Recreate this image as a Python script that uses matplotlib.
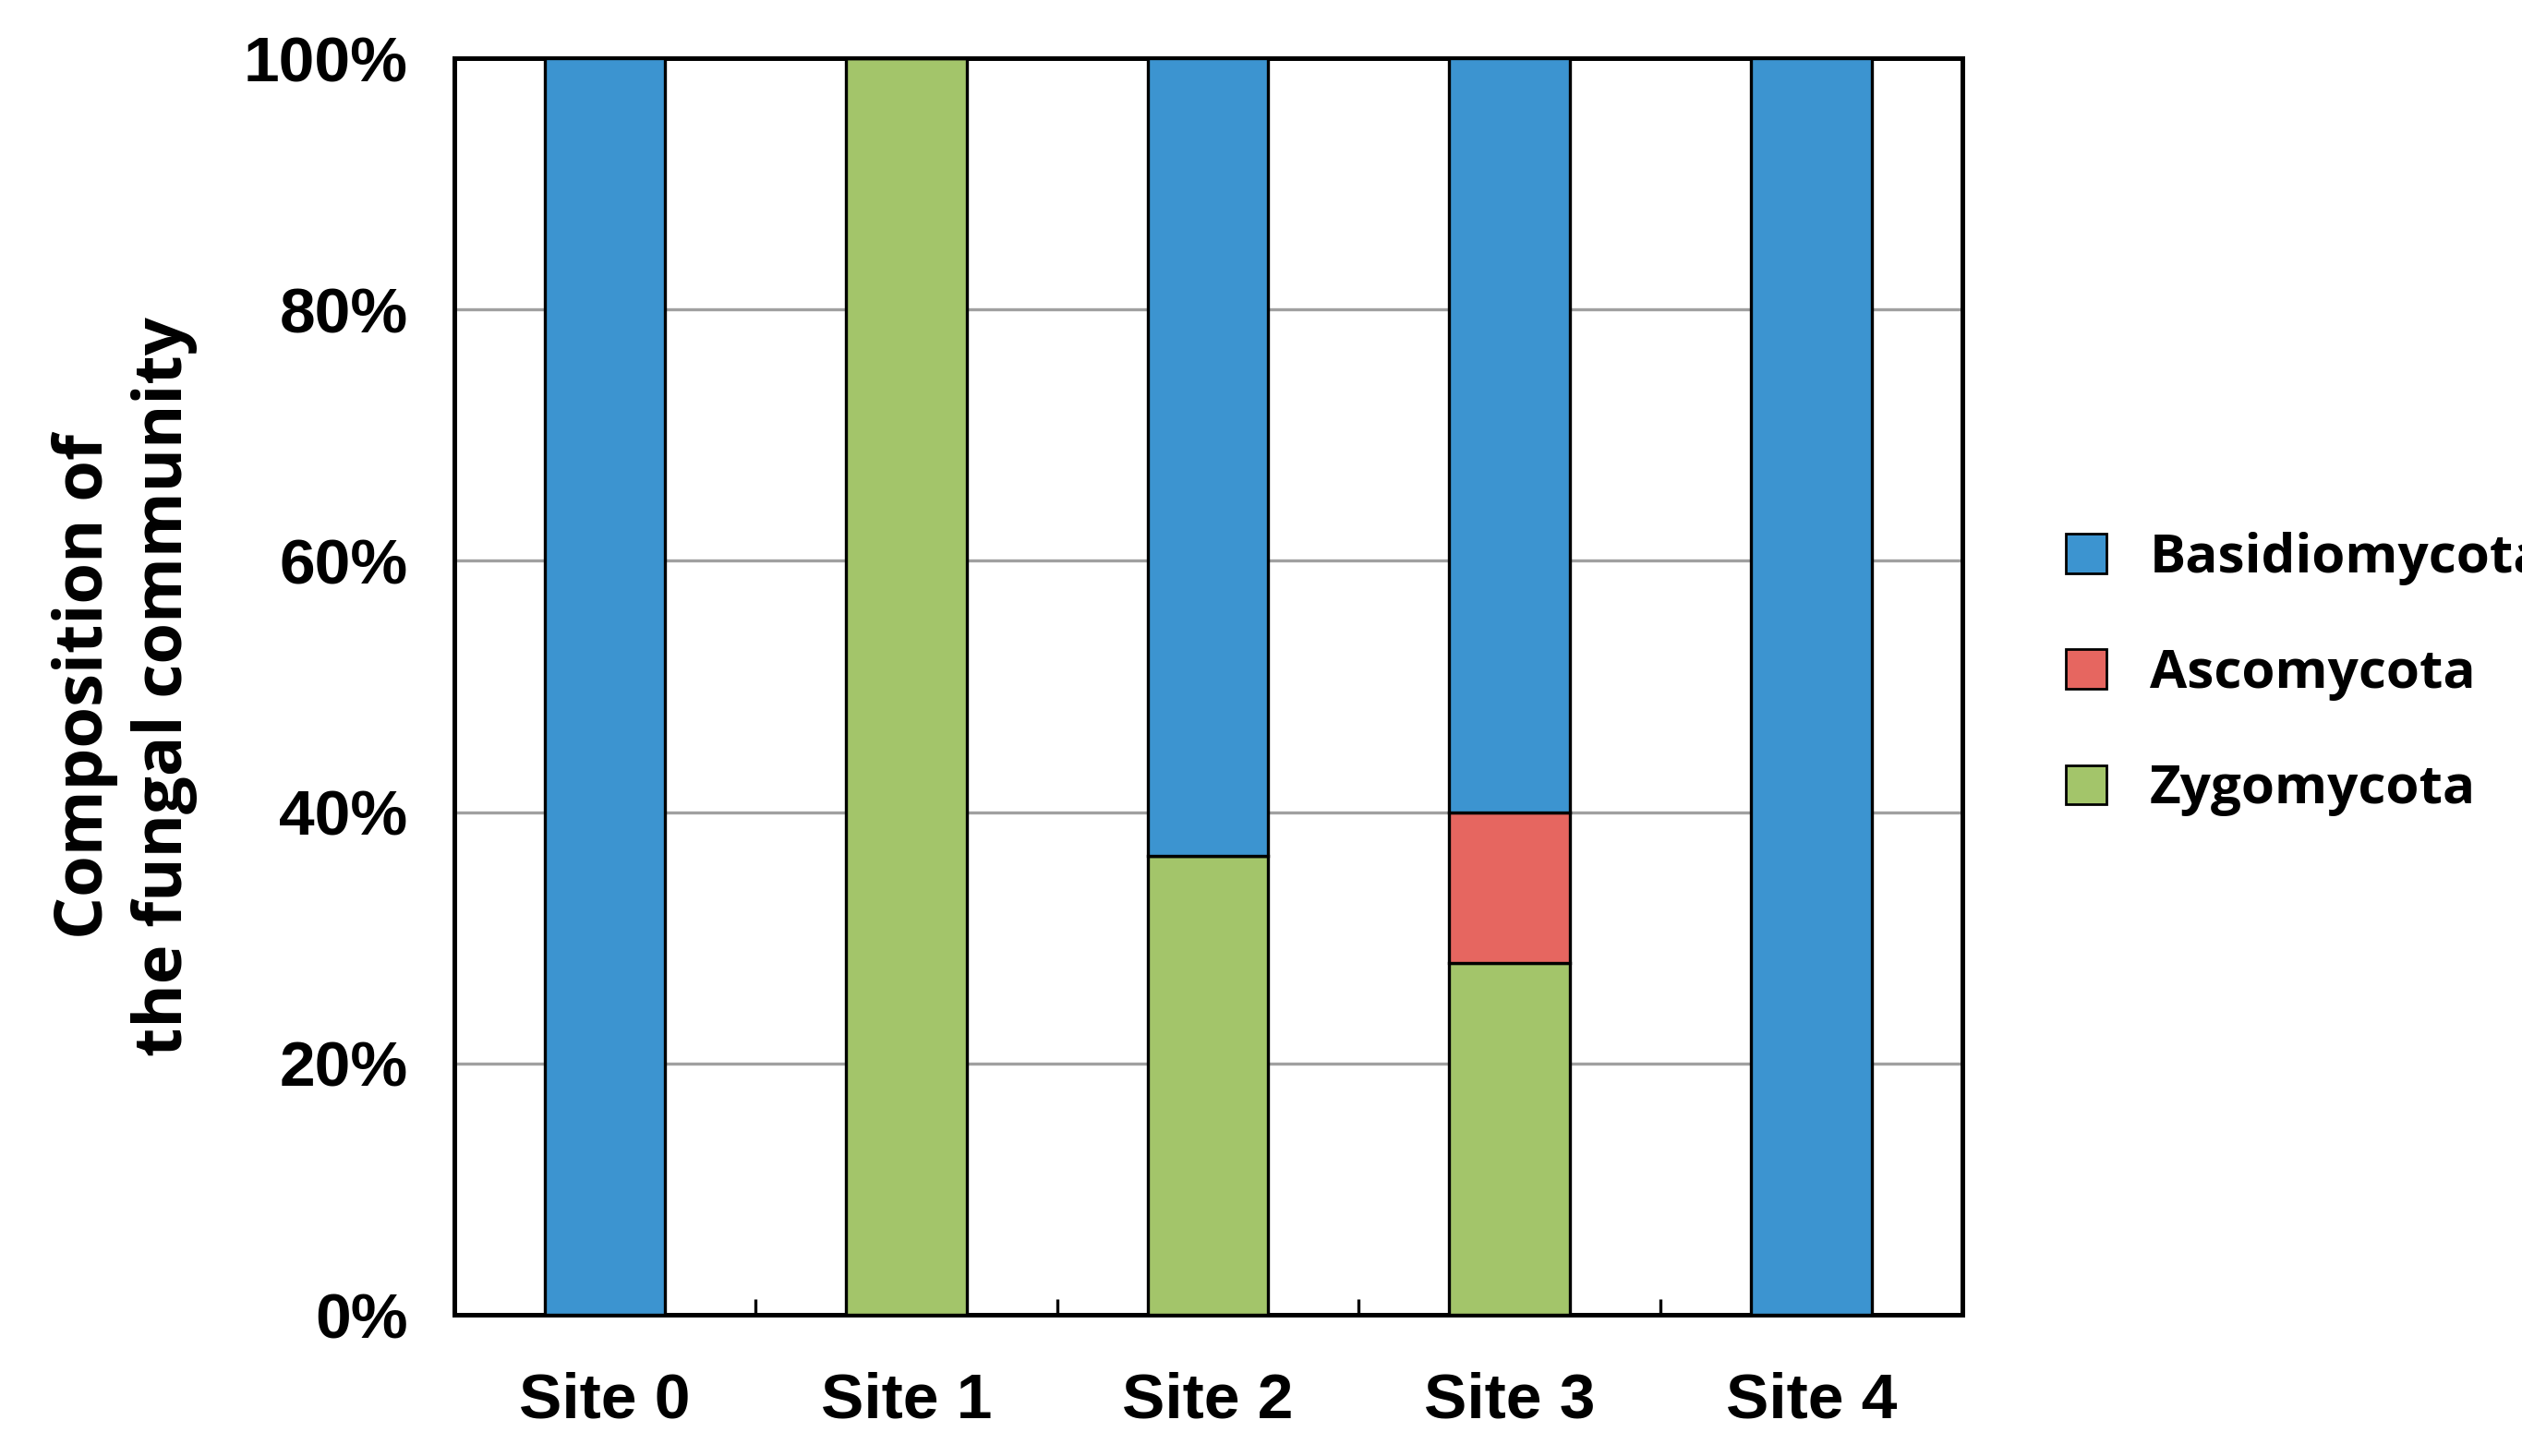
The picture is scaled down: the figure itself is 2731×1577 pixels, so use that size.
import numpy as np
import matplotlib.pyplot as plt
from matplotlib.patches import Patch

sites = ['Site 0', 'Site 1', 'Site 2', 'Site 3', 'Site 4']
zygomycota = [0, 100, 36.5, 28, 0]
ascomycota = [0, 0, 0, 12, 0]
basidiomycota = [100, 0, 63.5, 60, 100]

c_basi = '#3c94d0'
c_asco = '#e66660'
c_zygo = '#a3c56a'

fig = plt.figure(figsize=(13.655, 7.885), dpi=200)
ax = fig.add_axes([0.180, 0.097, 0.598, 0.863])

x = np.arange(len(sites))
w = 0.4
ax.bar(x, zygomycota, w, color=c_zygo, edgecolor='black', lw=1.2, zorder=3)
ax.bar(x, ascomycota, w, bottom=zygomycota, color=c_asco, edgecolor='black', lw=1.2, zorder=3)
bot = np.array(zygomycota) + np.array(ascomycota)
ax.bar(x, basidiomycota, w, bottom=bot, color=c_basi, edgecolor='black', lw=1.2, zorder=3)

ax.set_xlim(-0.5, 4.5)
ax.set_ylim(0, 100)
ax.set_yticks(np.arange(0, 101, 20))
ax.set_yticklabels(['%d%%' % v for v in range(0, 101, 20)])
ax.yaxis.grid(True, color='#a0a0a0', lw=1.2, zorder=0)
ax.set_xticks(x)
ax.set_xticklabels(sites)
ax.set_xticks(np.arange(-0.5, 4.6, 1), minor=True)
ax.tick_params(axis='x', which='major', length=0, pad=22)
ax.tick_params(axis='x', which='minor', direction='in', length=6, width=1.2)
ax.tick_params(axis='y', length=0, pad=18)
for lab in ax.get_xticklabels() + ax.get_yticklabels():
    lab.set_fontfamily('Liberation Sans')
    lab.set_fontweight('bold')
    lab.set_fontsize(25)
for s in ax.spines.values():
    s.set_linewidth(1.8)

ax.set_ylabel('Composition of\nthe fungal community', fontsize=26,
              fontweight='bold', family='Open Sans', labelpad=18, linespacing=1.25)

handles = [Patch(facecolor=c_basi, edgecolor='black', label='Basidiomycota'),
           Patch(facecolor=c_asco, edgecolor='black', label='Ascomycota'),
           Patch(facecolor=c_zygo, edgecolor='black', label='Zygomycota')]
fig.legend(handles=handles, loc='upper left', bbox_to_anchor=(0.8, 0.668),
           frameon=False, prop={'family': 'Open Sans', 'weight': 'bold', 'size': 21},
           handlelength=0.75, handleheight=0.75, labelspacing=1.15, handletextpad=0.8)

fig.savefig('out.png', facecolor='white')
